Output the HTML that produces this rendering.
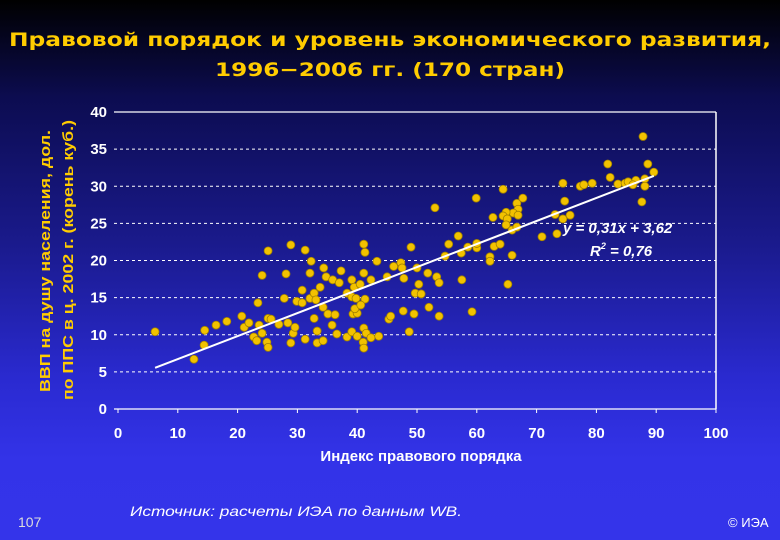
<!DOCTYPE html>
<html><head><meta charset="utf-8"><style>
body{margin:0;width:780px;height:540px;overflow:hidden;background:linear-gradient(#000000 0%,#0c0c50 18%,#1a1a8c 45%,#2a2ad0 70%,#3333e8 85%,#3434ea 100%);font-family:"Liberation Sans","DejaVu Sans",sans-serif;}
svg{display:block}
</style></head><body>
<svg id="chart" width="780" height="540">
<text x="390" y="46" text-anchor="middle" fill="#ffcc00" font-family="DejaVu Sans" font-weight="bold" font-size="19" textLength="762" lengthAdjust="spacingAndGlyphs">Правовой порядок и уровень экономического развития,</text>
<text x="390" y="76" text-anchor="middle" fill="#ffcc00" font-family="DejaVu Sans" font-weight="bold" font-size="19" textLength="350" lengthAdjust="spacingAndGlyphs">1996−2006 гг. (170 стран)</text>
<g>
<text transform="translate(50,261) rotate(-90)" text-anchor="middle" fill="#ffcc00" font-weight="bold" font-size="15" textLength="262" lengthAdjust="spacingAndGlyphs">ВВП на душу населения, дол.</text>
<text transform="translate(73,260) rotate(-90)" text-anchor="middle" fill="#ffcc00" font-weight="bold" font-size="15" textLength="280" lengthAdjust="spacingAndGlyphs">по ППС в ц. 2002 г. (корень куб.)</text>
</g>
<g id="grid"></g><g id="ticks"></g><g id="marks"></g>
<text x="421" y="461" text-anchor="middle" fill="#fff" font-weight="bold" font-size="15">Индекс правового порядка</text>
<text x="563" y="233" fill="#fff" font-weight="bold" font-style="italic" font-size="15">y = 0,31x + 3,62</text>
<text x="590" y="256" fill="#fff" font-weight="bold" font-style="italic" font-size="15">R<tspan font-size="9" dy="-7">2</tspan><tspan dy="7"> = 0,76</tspan></text>
<text x="18" y="527" fill="#ddd" font-size="14">107</text>
<text x="130" y="516" fill="#fff" font-style="italic" font-size="14" textLength="332" lengthAdjust="spacingAndGlyphs">Источник: расчеты ИЭА по данным WB.</text>
<text x="728" y="527" fill="#fff" font-size="13">© ИЭА</text>
</svg>
<script>
const xTicks=[0,10,20,30,40,50,60,70,80,90,100];
const yTicks=[0,5,10,15,20,25,30,35,40];
const xVals=[6.2,12.7,14.4,14.5,16.4,18.2,20.7,21.1,21.9,22.7,23.2,23.6,24.1,23.4,24.1,25.1,24.9,25.1,25.1,25.6,26.9,27.8,28.1,28.9,28.4,29.3,29.6,28.9,29.9,30.8,30.8,31.3,31.3,32.1,32.3,32.1,32.8,33.1,32.8,33.3,33.3,34.3,33.8,34.4,34.8,34.3,35.1,35.8,36.3,35.9,37.0,37.3,36.6,38.3,38.3,39.1,39.1,39.5,39.8,40.5,39.3,40.0,39.6,39.1,40.0,41.1,41.3,41.1,41.3,40.6,41.1,41.5,41.0,41.1,42.3,42.3,43.3,43.6,45.0,45.3,45.6,46.1,47.3,47.5,47.8,47.7,48.7,49.0,49.5,49.7,50.3,50.7,50.0,51.8,52.0,87.8,81.9,88.6,89.6,82.3,74.4,77.3,77.9,79.3,83.6,84.8,85.3,86.6,88.1,88.1,86.1,87.6,74.7,64.4,59.9,67.7,66.7,66.9,66.1,66.9,64.9,64.4,65.1,62.7,64.9,65.9,66.7,73.1,74.4,75.6,70.9,73.4,53.0,56.9,55.3,58.5,60.0,60.0,62.9,63.9,62.2,62.2,65.9,54.7,57.4,53.3,53.7,57.5,65.2,53.7,59.2];
const yVals=[10.4,6.7,8.6,10.6,11.3,11.8,12.5,11.0,11.6,9.7,9.2,11.3,10.2,14.3,18.0,21.3,9.0,8.3,12.2,12.1,11.4,14.9,18.2,22.1,11.6,10.2,11.0,8.9,14.5,14.3,16.0,21.4,9.4,18.3,19.9,14.9,15.6,14.7,12.2,10.5,8.9,9.2,16.4,19.0,17.8,13.7,12.8,11.3,12.7,17.4,17.0,18.6,10.1,9.7,15.6,17.4,15.1,16.4,14.9,16.8,12.8,12.9,13.5,10.4,9.8,22.2,21.1,18.3,14.8,14.0,10.9,10.2,9.0,8.2,17.4,9.6,19.9,9.8,17.8,12.1,12.5,19.2,19.7,19.0,17.6,13.2,10.4,21.8,12.8,15.6,16.8,15.5,19.0,18.3,13.7,36.7,33.0,33.0,31.9,31.2,30.4,30.0,30.2,30.4,30.3,30.4,30.6,30.8,31.0,30.0,30.2,27.9,28.0,29.6,28.4,28.4,27.7,26.9,26.4,26.1,26.5,26.0,25.6,25.8,24.8,24.1,24.5,26.2,25.6,26.1,23.2,23.6,27.1,23.3,22.2,21.8,21.7,22.3,21.9,22.2,20.5,19.9,20.7,20.6,21.0,17.8,17.0,17.4,16.8,12.5,13.1];
const trendSlope=0.31, trendIntercept=3.62, trendRange=[6.2,89.6];
const X0=118,X1=716,Y0=409,Y1=112;
const sx=v=>X0+(v-0)/(100-0)*(X1-X0);
const sy=v=>Y0-(v-0)/(40-0)*(Y0-Y1);
const NS="http://www.w3.org/2000/svg";
const mk=(t,a,p)=>{const e=document.createElementNS(NS,t);for(const k in a)e.setAttribute(k,a[k]);p.appendChild(e);return e;};
const grid=document.getElementById('grid'),ticks=document.getElementById('ticks'),marks=document.getElementById('marks');
yTicks.forEach(v=>{
 const solid=(v===0||v===40);
 const g=mk('line',{x1:X0-4,x2:X1,y1:sy(v),y2:sy(v),stroke:'#fff','stroke-width':solid?1.3:1,'stroke-dasharray':solid?'none':'3,3'},grid);
 
 
 const t=mk('text',{x:107,y:sy(v)+5,'text-anchor':'end',fill:'#fff','font-weight':'bold','font-size':15},ticks);t.textContent=v;
 
 
});
xTicks.forEach(v=>{
 const m=mk('line',{x1:sx(v),x2:sx(v),y1:Y0,y2:Y0+4,stroke:'#fff','stroke-width':1},grid);
 
 
 const t=mk('text',{x:sx(v),y:438,'text-anchor':'middle',fill:'#fff','font-weight':'bold','font-size':15},ticks);t.textContent=v;
 
 
});
const fr=mk('line',{x1:X1,x2:X1,y1:Y1,y2:Y0,stroke:'#fff','stroke-width':1.5},grid);


xVals.forEach((x,i)=>{
 const c=mk('circle',{cx:sx(x),cy:sy(yVals[i]),r:4,fill:'#f2c200',stroke:'#a08000','stroke-width':0.8},marks);
 
 
});
const tl=mk('line',{x1:sx(trendRange[0]),y1:sy(trendSlope*trendRange[0]+trendIntercept),x2:sx(trendRange[1]),y2:sy(trendSlope*trendRange[1]+trendIntercept),stroke:'#fff','stroke-width':2},marks);


</script>
</body></html>
